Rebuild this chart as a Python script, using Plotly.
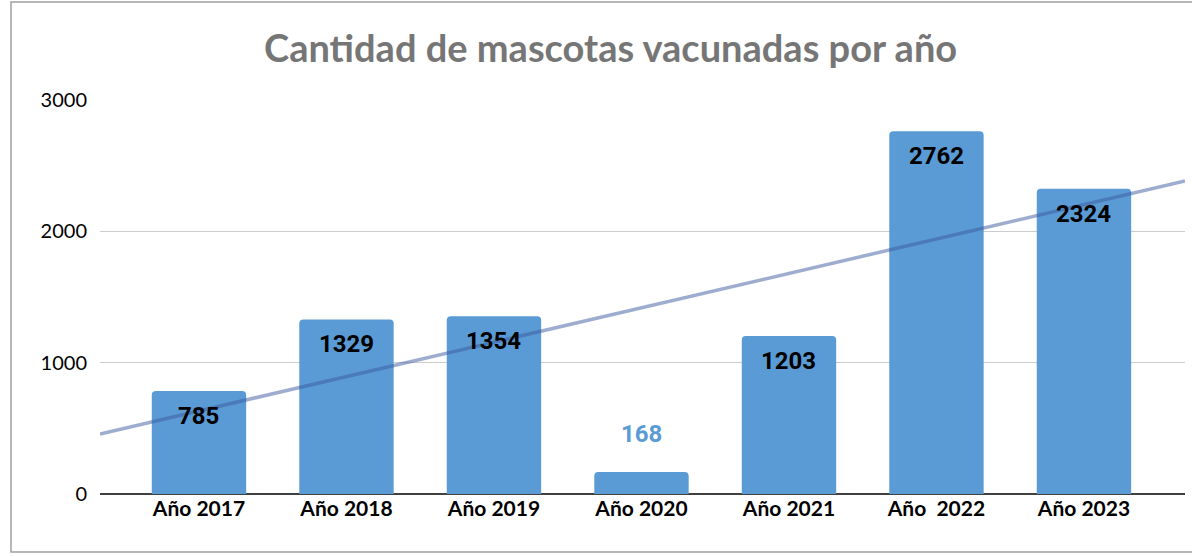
import numpy as np
import plotly.graph_objects as go

categories = ["Año 2017", "Año 2018", "Año 2019", "Año 2020", "Año 2021", "Año\u00a0 2022", "Año 2023"]
values = [785, 1329, 1354, 168, 1203, 2762, 2324]
y_ticks = [0, 1000, 2000, 3000]
title_text = "Cantidad de mascotas vacunadas por año"

BAR = "#5B9BD5"
W, H = 1192, 556
L, R, T, B = 100, 7, 100, 62
x_range = [-0.671, 6.685]

idx = np.arange(len(values))
slope, intercept = np.polyfit(idx, values, 1)
tx = np.array(x_range)
ty = slope * tx + intercept

fig = go.Figure()
fig.add_trace(go.Bar(
    x=idx, y=values, marker=dict(color=BAR, line=dict(width=0)),
    width=0.64, hoverinfo="skip",
))
fig.add_trace(go.Scatter(
    x=tx, y=ty, mode="lines",
    line=dict(color="rgba(60,90,160,0.5)", width=3.5), hoverinfo="skip",
))

for i, v in enumerate(values):
    inside = v > 500
    fig.add_annotation(
        x=i, y=v, xref="x", yref="y", text=f"<b>{v}</b>", showarrow=False,
        yanchor="middle", yshift=-25 if inside else 38,
        font=dict(family="Roboto", size=24, color="#000000" if inside else BAR),
    )

fig.add_annotation(
    x=(610 - L) / (W - L - R), y=1 + (100 - 47) / (H - T - B), xref="paper", yref="paper",
    text=f"<b>{title_text}</b>", showarrow=False, xanchor="center", yanchor="middle",
    font=dict(family="Lato", size=38, color="#767676"),
)

# outer chart border (right edge lies outside the visible window)
fig.add_shape(
    type="rect", xref="paper", yref="paper",
    x0=(11 - L) / (W - L - R), x1=1.05,
    y0=-(552 - (H - B)) / (H - T - B), y1=1 + (T - 2) / (H - T - B),
    line=dict(color="#A0A0A0", width=1.5), fillcolor="rgba(0,0,0,0)", layer="below",
)

fig.update_layout(
    width=W, height=H, margin=dict(l=L, r=R, t=T, b=B),
    paper_bgcolor="white", plot_bgcolor="white", showlegend=False,
    barcornerradius=4,
    xaxis=dict(
        range=x_range, tickmode="array", tickvals=list(idx),
        ticktext=[f"<b>{c}</b>" for c in categories],
        tickfont=dict(family="Lato", size=21, color="#000000"),
        showgrid=False, zeroline=False, showline=False, ticks="",
        fixedrange=True,
    ),
    yaxis=dict(
        range=[0, 3000], tickvals=y_ticks,
        tickfont=dict(family="Lato", size=20, color="#000000"),
        showgrid=True, gridcolor="#CCCCCC", gridwidth=1.5,
        zeroline=True, zerolinecolor="#404040", zerolinewidth=2.5,
        showline=False, ticks="", ticklabelstandoff=12, fixedrange=True,
    ),
)

fig.write_html(
    "out.html",
    config={"displayModeBar": False, "staticPlot": True},
    post_script="document.body.style.margin='0';document.body.style.overflow='hidden';",
)
